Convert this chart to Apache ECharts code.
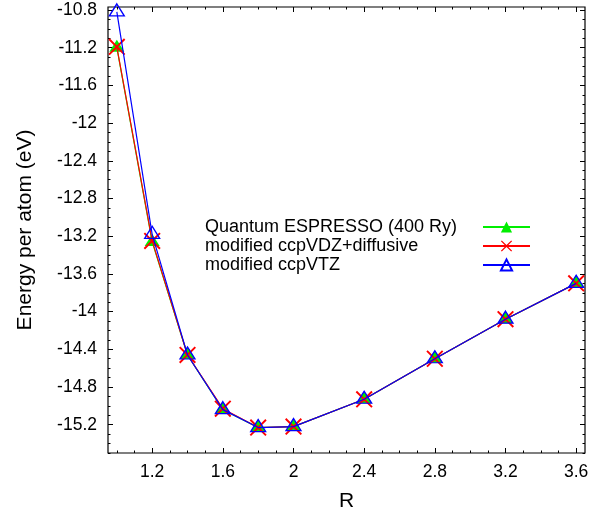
<!DOCTYPE html>
<html>
<head>
<meta charset="utf-8">
<script src="https://cdn.jsdelivr.net/npm/echarts@6/dist/echarts.min.js"></script>
<style>
  html, body { margin: 0; padding: 0; background: #fff; }
  #chart { width: 592px; height: 514px; }
</style>
</head>
<body>
<div id="chart"></div>
<script>
// Bond length R and energy per atom (eV) for three calculation setups
const bondLengths = [1.0, 1.2, 1.4, 1.6, 1.8, 2.0, 2.4, 2.8, 3.2, 3.6];
const energyQE    = [-11.20, -13.26, -14.46, -15.04, -15.23, -15.22, -14.93, -14.50, -14.08, -13.70];
const energyVDZ   = [-11.19, -13.25, -14.46, -15.03, -15.23, -15.22, -14.93, -14.50, -14.08, -13.70];
const energyVTZ   = [-10.82, -13.18, -14.46, -15.04, -15.23, -15.22, -14.93, -14.50, -14.08, -13.70];

const seriesNames = ['Quantum ESPRESSO (400 Ry)', 'modified ccpVDZ+diffusive', 'modified ccpVTZ'];

// Tick positions and labels
const xMajorTicks = [1.2, 1.6, 2.0, 2.4, 2.8, 3.2, 3.6];
const xTickLabels = ['1.2', '1.6', '2', '2.4', '2.8', '3.2', '3.6'];
const xMinorTicks = [1.0, 1.1, 1.3, 1.4, 1.5, 1.7, 1.8, 1.9, 2.1, 2.2, 2.3, 2.5, 2.6, 2.7, 2.9, 3.0, 3.1, 3.3, 3.4, 3.5];
const yMajorTicks = [-15.2, -14.8, -14.4, -14.0, -13.6, -13.2, -12.8, -12.4, -12.0, -11.6, -11.2, -10.8];
const yTickLabels = ['-15.2', '-14.8', '-14.4', '-14', '-13.6', '-13.2', '-12.8', '-12.4', '-12', '-11.6', '-11.2', '-10.8'];
const yMinorTicks = [-15.5, -15.4, -15.3, -15.1, -15.0, -14.9, -14.7, -14.6, -14.5, -14.3, -14.2, -14.1,
                     -13.9, -13.8, -13.7, -13.5, -13.4, -13.3, -13.1, -13.0, -12.9, -12.7, -12.6, -12.5,
                     -12.3, -12.2, -12.1, -11.9, -11.8, -11.7, -11.5, -11.4, -11.3, -11.1, -11.0, -10.9];

const X_MIN = 0.95, X_MAX = 3.65;
const Y_MIN = -15.5, Y_MAX = -10.768;

const FONT = '"Liberation Sans", Arial, Helvetica, sans-serif';

function pairs(ys) { return bondLengths.map((x, i) => [x, ys[i]]); }

function labelFor(values, labels) {
  return function (v) {
    for (let i = 0; i < values.length; i++) {
      if (Math.abs(values[i] - v) < 1e-6) return labels[i];
    }
    return '';
  };
}

// Thin diagonal cross marker
const crossPath = 'path://M0,0.8L0.8,0L5,4.2L9.2,0L10,0.8L5.8,5L10,9.2L9.2,10L5,5.8L0.8,10L0,9.2L4.2,5Z';

function tickAxis(dim, position, values, length, withLabels, labels, extra) {
  const isX = dim === 'x';
  const axis = {
    type: 'value',
    position: position,
    min: isX ? X_MIN : Y_MIN,
    max: isX ? X_MAX : Y_MAX,
    axisLine: { show: false },
    splitLine: { show: false },
    axisTick: {
      show: true,
      inside: true,
      length: length,
      customValues: values,
      lineStyle: { color: '#000', width: 1 }
    },
    axisLabel: withLabels ? {
      show: true,
      customValues: values,
      formatter: labelFor(values, labels),
      color: '#000',
      fontFamily: FONT,
      fontSize: 17.5,
      margin: isX ? 10 : 11
    } : { show: false }
  };
  return Object.assign(axis, extra || {});
}

const option = {
  backgroundColor: '#fff',
  animation: false,
  grid: {
    left: 108, right: 7, top: 7, bottom: 61,
    containLabel: false,
    outerBoundsMode: 'none',
    show: true,
    borderColor: '#000',
    borderWidth: 1.2,
    backgroundColor: 'transparent'
  },
  legend: {
    orient: 'vertical',
    left: 200,
    top: 213,
    align: 'right',
    itemWidth: 47,
    itemHeight: 14,
    itemGap: 1,
    data: seriesNames,
    selectedMode: false,
    formatter: function (name) { return '{t|' + name + '}'; },
    textStyle: {
      color: '#000',
      fontFamily: FONT,
      fontSize: 18,
      lineHeight: 17.5,
      rich: {
        t: {
          width: 273,
          align: 'left',
          color: '#000',
          fontFamily: FONT,
          fontSize: 18,
          lineHeight: 17.5
        }
      }
    }
  },
  xAxis: [
    tickAxis('x', 'bottom', xMajorTicks, 5, true, xTickLabels, {
      name: 'R',
      nameLocation: 'middle',
      nameGap: 38,
      nameTextStyle: { color: '#000', fontFamily: FONT, fontSize: 21 }
    }),
    tickAxis('x', 'bottom', xMinorTicks, 2.5, false),
    tickAxis('x', 'top', xMajorTicks, 5, false),
    tickAxis('x', 'top', xMinorTicks, 2.5, false)
  ],
  yAxis: [
    tickAxis('y', 'left', yMajorTicks, 5, true, yTickLabels, {
      name: 'Energy per atom (eV)',
      nameLocation: 'middle',
      nameGap: 72,
      nameRotate: 90,
      nameTextStyle: { color: '#000', fontFamily: FONT, fontSize: 21 }
    }),
    tickAxis('y', 'left', yMinorTicks, 2.5, false),
    tickAxis('y', 'right', yMajorTicks, 5, false),
    tickAxis('y', 'right', yMinorTicks, 2.5, false)
  ],
  series: [
    {
      name: seriesNames[0],
      type: 'line',
      data: pairs(energyQE),
      symbol: 'triangle',
      symbolSize: [15, 12],
      symbolOffset: [0, -2],
      showAllSymbol: true,
      lineStyle: { color: '#00ee00', width: 1.2 },
      itemStyle: { color: '#00ee00', borderWidth: 0 },
      z: 2
    },
    {
      name: seriesNames[1],
      type: 'line',
      data: pairs(energyVDZ),
      symbol: crossPath,
      symbolSize: 17,
      showAllSymbol: true,
      lineStyle: { color: '#ff0000', width: 1.2 },
      itemStyle: { color: '#ff0000', borderWidth: 0 },
      z: 3
    },
    {
      name: seriesNames[2],
      type: 'line',
      data: pairs(energyVTZ),
      symbol: 'triangle',
      symbolSize: [15, 12],
      symbolOffset: [0, -2],
      showAllSymbol: true,
      lineStyle: { color: '#0000ff', width: 1.2 },
      itemStyle: { color: 'rgba(0,0,0,0)', borderColor: '#0000ff', borderWidth: 1.3 },
      z: 4
    }
  ]
};

const chart = echarts.init(document.getElementById('chart'), null, { renderer: 'canvas' });
chart.setOption(option);
</script>
</body>
</html>
